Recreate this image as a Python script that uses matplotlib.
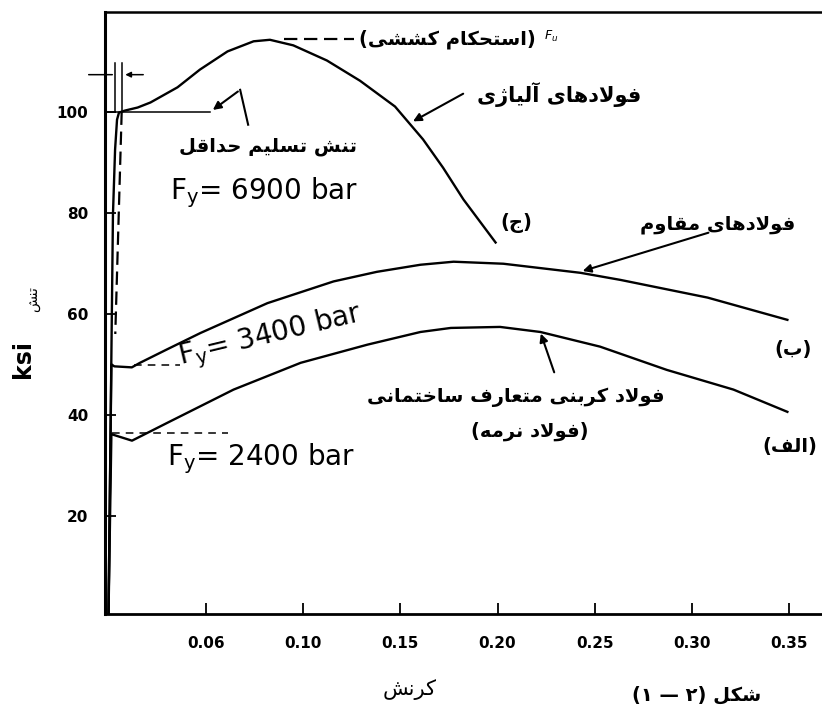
"""
Stress-strain curves of structural steels (figure 2-1), redrawn with matplotlib.
"""

import matplotlib
matplotlib.use("Agg")
import matplotlib.pyplot as plt

plt.rcParams['font.family'] = ['DejaVu Sans']
plt.rcParams['mathtext.default'] = 'regular'

# (c) alloy steel
alloy_x = [0, 0.0023, 0.0034, 0.0044, 0.0054, 0.0085, 0.015, 0.0216, 0.0355, 0.047, 0.0612,
           0.0746, 0.083, 0.095, 0.1123, 0.1293, 0.1473, 0.1617, 0.172, 0.1825, 0.199]
alloy_y = [0, 79.6, 92.5, 98.4, 99.8, 100.2, 100.8, 101.8, 104.8, 108.3, 111.9,
           113.9, 114.2, 113.1, 110.1, 106.1, 101.0, 94.5, 88.9, 82.6, 74.1]

# (b) high-strength steel
hs_x = [0, 0.0015, 0.003, 0.012, 0.0162, 0.0298, 0.0473, 0.0817, 0.1157, 0.138, 0.1604,
        0.1774, 0.203, 0.2427, 0.2632, 0.308, 0.349]
hs_y = [0, 50.0, 49.6, 49.4, 50.3, 52.9, 56.2, 62.1, 66.4, 68.3, 69.7,
        70.3, 69.9, 68.1, 66.7, 63.2, 58.8]

# (a) mild carbon steel
mild_x = [0, 0.0015, 0.003, 0.0121, 0.0301, 0.0643, 0.0988, 0.1332, 0.1604, 0.176,
          0.2013, 0.222, 0.2527, 0.287, 0.3213, 0.349]
mild_y = [0, 36.2, 36.0, 34.9, 38.4, 45.0, 50.3, 53.9, 56.4, 57.2,
          57.4, 56.4, 53.5, 48.9, 45.0, 40.6]

x_ticks = [0.05, 0.10, 0.15, 0.20, 0.25, 0.30, 0.35]
x_labels = ["0.06", "0.10", "0.15", "0.20", "0.25", "0.30", "0.35"]
y_ticks = [20, 40, 60, 80, 100]
y_labels = ["20", "40", "60", "80", "100"]

# presentation forms: isolated, final, initial, medial
FORMS = {
    'ا': ('\uFE8D', '\uFE8E', None, None),
    'آ': ('\uFE81', '\uFE82', None, None),
    'ب': ('\uFE8F', '\uFE90', '\uFE91', '\uFE92'),
    'ت': ('\uFE95', '\uFE96', '\uFE97', '\uFE98'),
    'ج': ('\uFE9D', '\uFE9E', '\uFE9F', '\uFEA0'),
    'ح': ('\uFEA1', '\uFEA2', '\uFEA3', '\uFEA4'),
    'خ': ('\uFEA5', '\uFEA6', '\uFEA7', '\uFEA8'),
    'د': ('\uFEA9', '\uFEAA', None, None),
    'ر': ('\uFEAD', '\uFEAE', None, None),
    'ژ': ('\uFB8A', '\uFB8B', None, None),
    'س': ('\uFEB1', '\uFEB2', '\uFEB3', '\uFEB4'),
    'ش': ('\uFEB5', '\uFEB6', '\uFEB7', '\uFEB8'),
    'ع': ('\uFEC9', '\uFECA', '\uFECB', '\uFECC'),
    'ف': ('\uFED1', '\uFED2', '\uFED3', '\uFED4'),
    'ق': ('\uFED5', '\uFED6', '\uFED7', '\uFED8'),
    'ک': ('\uFB8E', '\uFB8F', '\uFB90', '\uFB91'),
    'ل': ('\uFEDD', '\uFEDE', '\uFEDF', '\uFEE0'),
    'م': ('\uFEE1', '\uFEE2', '\uFEE3', '\uFEE4'),
    'ن': ('\uFEE5', '\uFEE6', '\uFEE7', '\uFEE8'),
    'ه': ('\uFEE9', '\uFEEA', '\uFEEB', '\uFEEC'),
    'و': ('\uFEED', '\uFEEE', None, None),
    'ی': ('\uFBFC', '\uFBFD', '\uFBFE', '\uFBFF'),
}
LAM_ALEF = {'ا': ('\uFEFB', '\uFEFC'), 'آ': ('\uFEF5', '\uFEF6')}


def fa(s):
    # join the letters and put them in visual (left to right) order
    res = []
    i = 0
    while i < len(s):
        c = s[i]
        if c not in FORMS:
            res.append(c)
            i += 1
            continue
        prev = s[i - 1] if i > 0 else ''
        joins_prev = prev in FORMS and FORMS[prev][2] is not None
        nxt = s[i + 1] if i + 1 < len(s) else ''
        if c == 'ل' and nxt in LAM_ALEF:
            res.append(LAM_ALEF[nxt][1 if joins_prev else 0])
            i += 2
            continue
        joins_next = FORMS[c][2] is not None and nxt in FORMS
        iso, fin, ini, med = FORMS[c]
        if joins_prev and joins_next:
            res.append(med)
        elif joins_prev:
            res.append(fin)
        elif joins_next:
            res.append(ini)
        else:
            res.append(iso)
        i += 1
    mirror = {'(': ')', ')': '('}
    return ''.join(mirror.get(ch, ch) for ch in reversed(res))


fig = plt.figure(figsize=(8.22, 7.05), dpi=100)
ax = fig.add_axes([0.1277, 0.129, 0.8723, 0.854])

lw = 1.7
ax.plot(alloy_x, alloy_y, color='black', lw=lw)
ax.plot(hs_x, hs_y, color='black', lw=lw)
ax.plot(mild_x, mild_y, color='black', lw=lw)

# yield / tensile strength guides
ax.plot([-0.0018, 0.052], [100, 100], color='black', lw=1.1)
ax.plot([0.0068, 0.0035], [100, 56], color='black', lw=1.6, ls=(0, (6, 3)))
ax.plot([0.0036, 0.0036], [100, 109.7], color='black', lw=1.1)
ax.plot([0.0070, 0.0070], [100, 109.7], color='black', lw=1.1)
ax.plot([0.090, 0.126], [114.4, 114.4], color='black', lw=1.6, ls=(0, (6, 3)))
ax.plot([0.013, 0.037], [49.8, 49.8], color='black', lw=1.1, ls=(0, (5, 4)))
ax.plot([0.002, 0.0615], [36.4, 36.4], color='black', lw=1.1, ls=(0, (5, 4)))

arrow = dict(arrowstyle='-|>', color='black', lw=1.5, mutation_scale=12)
ax.annotate('', xy=(0.0034, 107.3), xytext=(-0.0116, 107.3), annotation_clip=False,
            arrowprops=dict(arrowstyle='-', color='black', lw=1.1))
ax.annotate('', xy=(0.0072, 107.3), xytext=(0.0193, 107.3), annotation_clip=False,
            arrowprops=dict(arrowstyle='-|>', color='black', lw=1.1, mutation_scale=8))
ax.plot([0.0718, 0.0677], [97.4, 104.3], color='black', lw=1.5)
ax.annotate('', xy=(0.0525, 100.0), xytext=(0.0677, 104.3), arrowprops=arrow)
ax.annotate('', xy=(0.1553, 97.8), xytext=(0.1836, 103.8), arrowprops=arrow)
ax.annotate('', xy=(0.2424, 68.3), xytext=(0.3098, 76.2), arrowprops=arrow)
ax.annotate('', xy=(0.2218, 56.6), xytext=(0.2296, 47.9), arrowprops=arrow)

fy = 20
ax.text(0.0316, 82.6, r"$F_y$= 6900 bar", fontsize=fy, ha='left', va='baseline')
ax.text(0.0368, 49.9, r"$F_y$= 3400 bar", fontsize=fy, ha='left', va='baseline',
        rotation=13.5, rotation_mode='anchor')
ax.text(0.030, 30.1, r"$F_y$= 2400 bar", fontsize=fy, ha='left', va='baseline')

pt = dict(fontsize=14, fontweight='bold', ha='center', va='center')
ax.text(0.082, 93.1, fa("تنش تسلیم حداقل"), **pt)
ax.text(0.174, 114.3, fa("(استحکام کششی)"), **pt)
ax.text(0.224, 114.9, r"$\mathit{F_u}$", fontsize=9, ha='left', va='center')
ax.text(0.2316, 103.4, fa("فولادهای آلیاژی"), fontsize=15, fontweight='bold',
        ha='center', va='center')
ax.text(0.2095, 78.0, fa("(ج)"), **pt)
ax.text(0.3129, 77.6, fa("فولادهای مقاوم"), **pt)
ax.text(0.352, 52.9, fa("(ب)"), **pt)
ax.text(0.350, 33.7, fa("(الف)"), **pt)
ax.text(0.2095, 43.4, fa("فولاد کربنی متعارف ساختمانی"), **pt)
ax.text(0.2166, 36.8, fa("(فولاد نرمه)"), **pt)

ax.set_xlim(-0.0018, 0.3668)
ax.set_ylim(0.6, 119.7)
ax.set_xticks(x_ticks)
ax.set_xticklabels(x_labels)
ax.set_yticks(y_ticks)
ax.set_yticklabels(y_labels)
ax.tick_params(direction='in', length=8, width=1.3, labelsize=11)
ax.tick_params(axis='x', pad=16)
ax.tick_params(axis='y', pad=12)
for lab in ax.get_xticklabels() + ax.get_yticklabels():
    lab.set_fontweight('bold')

ax.spines['right'].set_visible(False)
ax.spines['left'].set_linewidth(2.2)
ax.spines['bottom'].set_linewidth(2.0)
ax.spines['top'].set_linewidth(1.8)

fig.text(23 / 822, 1 - 359 / 705, "ksi", rotation=90, fontsize=17, fontweight='bold',
         ha='center', va='center')
fig.text(33 / 822, 1 - 299 / 705, fa("تنش"), rotation=90, fontsize=10,
         ha='center', va='center')
fig.text(410 / 822, 1 - 690 / 705, fa("کرنش"), fontsize=15, ha='center', va='center')
fig.text(697 / 822, 1 - 695 / 705, fa("شکل (۲ — ۱)"), fontsize=14, fontweight='bold',
         ha='center', va='center')

fig.savefig("out.png", dpi=100)
plt.close(fig)
